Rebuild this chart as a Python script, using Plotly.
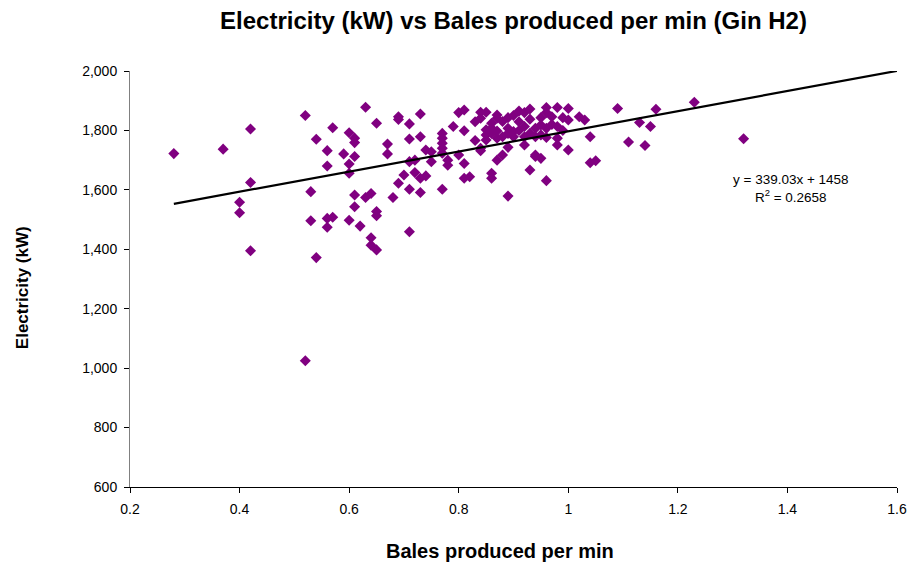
import plotly.graph_objects as go

bales_per_min = [
    0.28, 0.37, 0.42, 0.42, 0.40, 0.40, 0.42, 0.52, 0.52, 0.53, 0.53, 0.54, 0.54, 0.56, 0.56, 0.56, 0.56,
    0.57, 0.57, 0.59, 0.60, 0.61, 0.61, 0.61, 0.60, 0.60, 0.60, 0.61, 0.61, 0.62, 0.63, 0.63, 0.64, 0.64,
    0.64, 0.65, 0.65, 0.65, 0.65, 0.67, 0.67, 0.68, 0.69, 0.69, 0.69, 0.70, 0.71, 0.71, 0.71, 0.71, 0.71,
    0.72, 0.72, 0.73, 0.73, 0.73, 0.73, 0.74, 0.74, 0.75, 0.75, 0.77, 0.77, 0.77, 0.77, 0.77, 0.77, 0.78,
    0.78, 0.79, 0.80, 0.80, 0.81, 0.81, 0.81, 0.81, 0.82, 0.83, 0.83, 0.84, 0.84, 0.84, 0.84, 0.85, 0.85,
    0.85, 0.85, 0.86, 0.86, 0.86, 0.86, 0.87, 0.87, 0.87, 0.87, 0.87, 0.88, 0.88, 0.89, 0.89, 0.89, 0.89,
    0.90, 0.90, 0.91, 0.91, 0.92, 0.92, 0.92, 0.93, 0.93, 0.93, 0.94, 0.94, 0.94, 0.94, 0.95, 0.95, 0.95,
    0.95, 0.96, 0.96, 0.96, 0.96, 0.97, 0.98, 0.98, 0.98, 0.98, 0.99, 1.00, 1.00, 1.00, 1.02, 1.03, 1.04,
    1.04, 1.05, 1.09, 1.11, 1.13, 1.14, 1.15, 1.16, 1.23, 1.32,
    0.88, 0.90, 0.91, 0.93, 0.97, 0.99, 0.96, 0.86, 0.89, 0.92,
]
electricity_kw = [
    1722, 1737, 1805, 1625, 1558, 1523, 1395, 1850, 1025, 1594, 1496, 1372, 1770, 1732, 1680, 1504, 1474,
    1809, 1508, 1721, 1792, 1774, 1759, 1712, 1687, 1656, 1498, 1583, 1543, 1478, 1878, 1574, 1588, 1439,
    1414, 1824, 1527, 1513, 1398, 1754, 1721, 1574, 1846, 1837, 1622, 1650, 1822, 1771, 1695, 1602, 1459,
    1700, 1658, 1855, 1779, 1639, 1591, 1734, 1647, 1728, 1695, 1790, 1774, 1757, 1740, 1723, 1602, 1700,
    1683, 1813, 1860, 1717, 1869, 1799, 1689, 1639, 1644, 1829, 1766, 1861, 1841, 1740, 1732, 1861, 1802,
    1785, 1768, 1824, 1807, 1656, 1639, 1852, 1841, 1798, 1774, 1700, 1717, 1779, 1843, 1807, 1743, 1579,
    1796, 1779, 1865, 1829, 1813, 1751, 1779, 1872, 1838, 1667, 1807, 1779, 1712, 1717, 1843, 1818, 1785,
    1706, 1877, 1807, 1776, 1631, 1846, 1877, 1813, 1774, 1751, 1843, 1874, 1835, 1734, 1846, 1835, 1779,
    1691, 1698, 1874, 1761, 1827, 1749, 1813, 1871, 1895, 1772,
    1830, 1850, 1800, 1790, 1820, 1800, 1860, 1790, 1790, 1860,
]

trend_slope = 339.03
trend_intercept = 1458
trend_r2 = 0.2658
trend_x_end = 1.6

x_ticks = [0.2, 0.4, 0.6, 0.8, 1.0, 1.2, 1.4, 1.6]
y_ticks = [600, 800, 1000, 1200, 1400, 1600, 1800, 2000]

trend_x = [min(bales_per_min), trend_x_end]
trend_y = [trend_slope * v + trend_intercept for v in trend_x]

font_family = "Liberation Sans, Arial, sans-serif"

W, H = 911, 567

fig = go.Figure()
fig.add_trace(go.Scatter(
    x=bales_per_min, y=electricity_kw, mode="markers",
    marker=dict(symbol="diamond", size=8.5, color="#800080", line=dict(width=0)),
    showlegend=False, hoverinfo="x+y",
))
fig.add_trace(go.Scatter(
    x=trend_x, y=trend_y, mode="lines",
    line=dict(color="black", width=2.2), showlegend=False, hoverinfo="skip",
))

fig.add_annotation(
    x=1.407, y=1605, xref="x", yref="y", showarrow=False,
    text=f"y = {trend_slope}x + {trend_intercept}<br>R<sup>2</sup> = {trend_r2}",
    font=dict(family=font_family, size=13.5, color="black"), align="center",
)
# axis titles
fig.add_annotation(
    x=0.4824, y=-0.154, xref="paper", yref="paper", showarrow=False,
    xanchor="center", yanchor="middle",
    text="<b>Bales produced per min</b>", font=dict(family=font_family, size=20, color="black"),
)
fig.add_annotation(
    x=-0.1408, y=0.478, xref="paper", yref="paper", showarrow=False,
    xanchor="center", yanchor="middle", textangle=-90,
    text="<b>Electricity (kW)</b>", font=dict(family=font_family, size=17, color="black"),
)

fig.update_layout(
    width=W, height=H,
    paper_bgcolor="white", plot_bgcolor="white",
    margin=dict(l=130, r=14, t=71, b=80, autoexpand=False),
    title=dict(
        text="<b>Electricity (kW) vs Bales produced per min (Gin H2)</b>",
        x=513.5 / W, xanchor="center", y=1 - 21 / H, yanchor="middle",
        font=dict(family=font_family, size=24, color="black"),
    ),
    font=dict(family=font_family, size=13, color="black"),
)
fig.update_xaxes(
    range=[0.2, 1.6], tickvals=x_ticks, ticktext=[f"{v:g}" for v in x_ticks],
    showgrid=False, zeroline=False, showline=True, linecolor="black", linewidth=1,
    ticks="outside", ticklen=5, tickcolor="black", ticklabelstandoff=4,
    automargin=False,
    tickfont=dict(family=font_family, size=14, color="black"),
)
fig.update_yaxes(
    range=[600, 2000], tickvals=y_ticks, tickformat=",",
    showgrid=False, zeroline=False, showline=True, linecolor="#808080", linewidth=1,
    ticks="outside", ticklen=5, tickcolor="black", ticklabelstandoff=4,
    automargin=False,
    tickfont=dict(family=font_family, size=14, color="black"),
)

# remove the default page margin so the 911x567 figure fills the window exactly
fig.write_html(
    "out.html",
    config={"displayModeBar": False},
    post_script="document.body.style.margin='0';document.body.style.overflow='hidden';",
)
